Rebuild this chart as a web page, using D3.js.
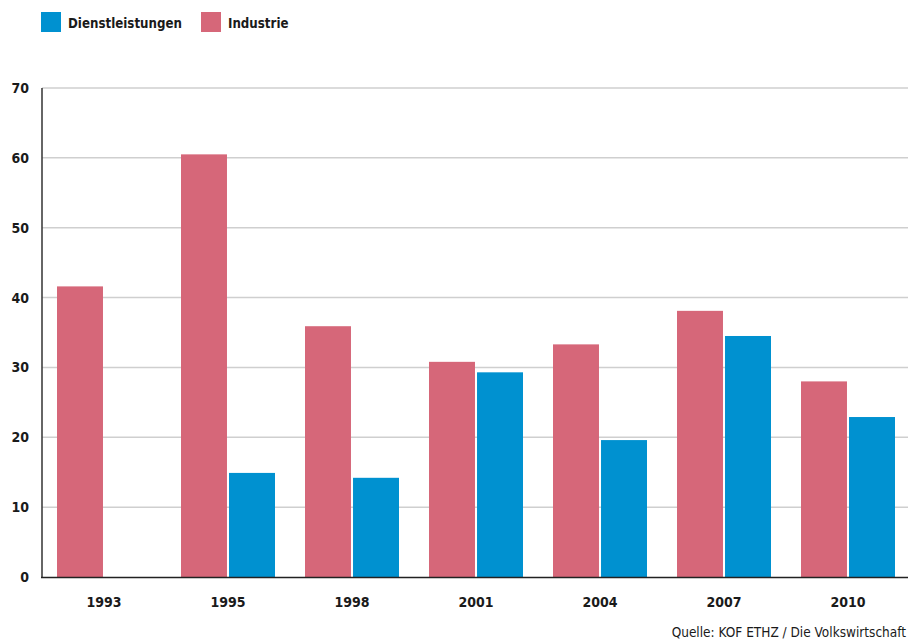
<!DOCTYPE html>
<html><head><meta charset="utf-8">
<script src="https://cdn.jsdelivr.net/npm/d3@7"></script>
<style>body{margin:0;background:#fff}svg{display:block}</style>
</head><body>
<script>
const years = ["1993","1995","1998","2001","2004","2007","2010"];
const seriesNames = ["Industrie","Dienstleistungen"];
const industrie = [41.6,60.5,35.9,30.8,33.3,38.1,28.0];
const dienst = [null,14.9,14.2,29.3,19.6,34.5,22.9];
const yTicks = [0,10,20,30,40,50,60,70];
const colors = {"Industrie":"#d66779","Dienstleistungen":"#0091d0"};
const legendOrder = ["Dienstleistungen","Industrie"];
const source = "Quelle: KOF ETHZ / Die Volkswirtschaft";

const W=908,H=639;
const font = "'DejaVu Sans Condensed','DejaVu Sans',sans-serif";
const svg = d3.select("body").append("svg").attr("width",W).attr("height",H);

const y = d3.scaleLinear().domain([0,70]).range([577,88]);
const x0 = d3.scaleBand().domain(years).range([57,895]).paddingInner(30/124).paddingOuter(0);
const x1 = d3.scaleBand().domain(seriesNames).range([0,x0.bandwidth()]).paddingInner(4/94);

// gridlines
svg.append("g").selectAll("line").data(yTicks.filter(d=>d>0)).join("line")
  .attr("x1",42).attr("x2",W).attr("y1",d=>y(d)).attr("y2",d=>y(d))
  .attr("stroke","#cfcfcf").attr("stroke-width",1.5);

// y tick labels
svg.append("g").selectAll("text").data(yTicks).join("text")
  .attr("x",29).attr("y",d=>y(d)+5).attr("text-anchor","end")
  .attr("font-family",font).attr("font-weight","bold").attr("font-size",14).attr("fill","#1a1a1a")
  .text(d=>d);

// bars
const rows = [];
years.forEach((yr,i)=>{
  rows.push({year:yr,key:"Industrie",v:industrie[i]});
  if(dienst[i]!=null) rows.push({year:yr,key:"Dienstleistungen",v:dienst[i]});
});
svg.append("g").selectAll("rect").data(rows).join("rect")
  .attr("x",d=>x0(d.year)+x1(d.key)).attr("width",x1.bandwidth())
  .attr("y",d=>y(d.v)).attr("height",d=>y(0)-y(d.v))
  .attr("fill",d=>colors[d.key]);

// axes lines
svg.append("line").attr("x1",42).attr("x2",42).attr("y1",88).attr("y2",578)
  .attr("stroke","#333").attr("stroke-width",1.5);
svg.append("line").attr("x1",41).attr("x2",W).attr("y1",577.5).attr("y2",577.5)
  .attr("stroke","#222").attr("stroke-width",1.5);

// x labels
svg.append("g").selectAll("text").data(years).join("text")
  .attr("x",d=>x0(d)+x0.bandwidth()/2).attr("y",607).attr("text-anchor","middle")
  .attr("font-family",font).attr("font-weight","bold").attr("font-size",14).attr("fill","#1a1a1a")
  .text(d=>d);

// legend
const lx = [41,201];
const lg = svg.append("g").selectAll("g").data(legendOrder).join("g")
  .attr("transform",(d,i)=>`translate(${lx[i]},12)`);
lg.append("rect").attr("width",20).attr("height",20).attr("fill",d=>colors[d]);
lg.append("text").attr("x",27).attr("y",15.5)
  .attr("font-family",font).attr("font-weight","bold").attr("font-size",13.2).attr("fill","#1a1a1a")
  .text(d=>d);

// source
svg.append("text").attr("x",906).attr("y",637).attr("text-anchor","end")
  .attr("font-family",font).attr("font-size",13.5).attr("fill","#1a1a1a").text(source);
</script>
</body></html>
